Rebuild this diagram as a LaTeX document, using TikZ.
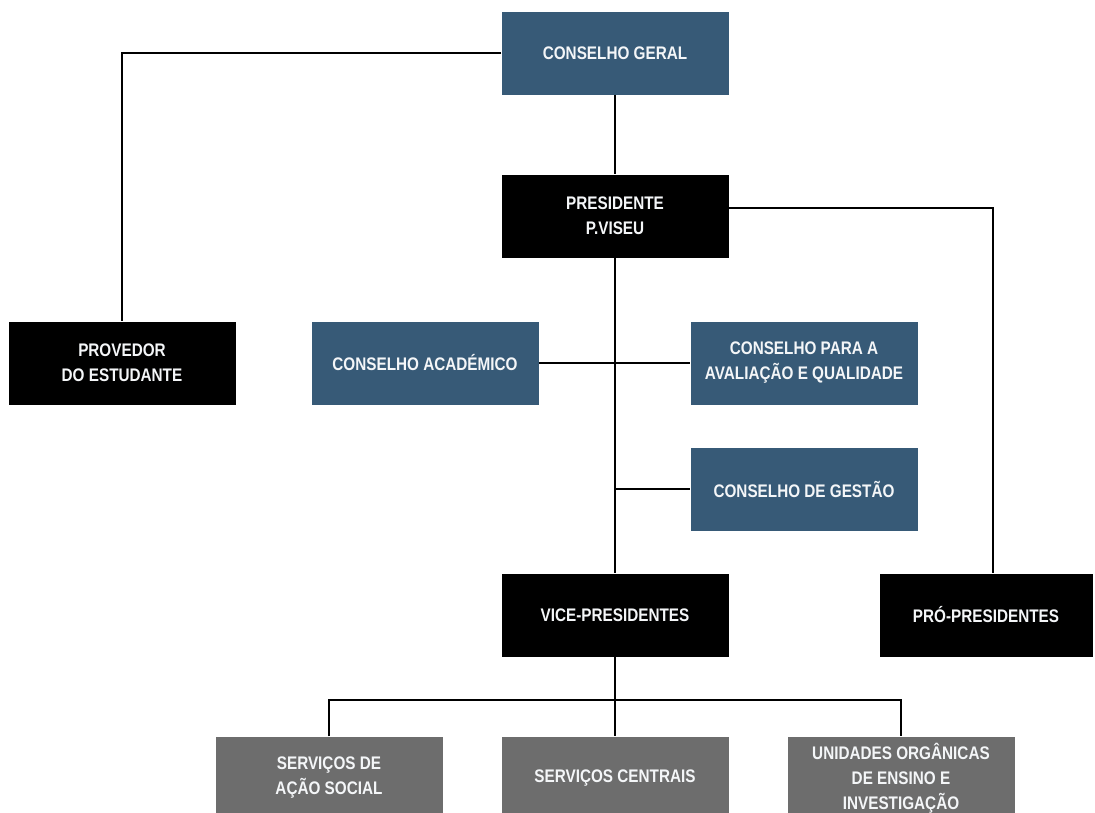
\documentclass[tikz,border=0pt]{standalone}
\usepackage{fontspec}
\setmainfont{Liberation Sans}[FakeStretch=0.84]
\definecolor{conselhoblue}{HTML}{375A77}
\definecolor{servicogrey}{HTML}{6D6D6D}
\definecolor{textwhite}{HTML}{F4F6F8}

\begin{document}
\begin{tikzpicture}[x=1pt,y=-1pt,
    box/.style={minimum width=227pt, minimum height=83pt, inner sep=0pt,
                text=textwhite, align=center,
                font=\bfseries\fontsize{18.2}{25}\selectfont},
    bluebox/.style={box, fill=conselhoblue},
    blackbox/.style={box, fill=black},
    greybox/.style={box, fill=servicogrey},
    link/.style={line width=1.6pt, black}]
                \useasboundingbox (0,0) rectangle (1095,812);
                \clip (0,0) rectangle (1095,812);

                \node [bluebox] (geral) at (615,53) {CONSELHO GERAL};
                \node [blackbox] (presidente) at (615,216) {PRESIDENTE\\P.VISEU};
                \node [blackbox] (provedor) at (122,363) {PROVEDOR\\DO ESTUDANTE};
                \node [bluebox] (academico) at (425,363) {CONSELHO ACADÉMICO};
                \node [bluebox] (avaliacao) at (804,363) {CONSELHO PARA A\\AVALIAÇÃO E QUALIDADE};
                \node [bluebox] (gestao) at (804,489) {CONSELHO DE GESTÃO};
                \node [blackbox] (vice) at (615,615) {VICE-PRESIDENTES};
                \node [blackbox, minimum width=213pt] (pro) at (986,615) {PRÓ-PRESIDENTES};
                \node [greybox] (acao) at (329,778) {SERVIÇOS DE\\AÇÃO SOCIAL};
                \node [greybox] (centrais) at (615,778) {SERVIÇOS CENTRAIS};
                \node [greybox] (unidades) at (901,778) {UNIDADES ORGÂNICAS\\DE ENSINO E\\INVESTIGAÇÃO};

                \coordinate (proturn) at (993,208);
                \coordinate (gestaojoin) at (615,489);
                \coordinate (bus) at (615,700);

                \draw[link] (geral.west) -| (provedor.north);
                \draw[link] (geral) -- (presidente);
                \draw[link] (presidente.east |- proturn) -- (proturn) -- (proturn |- pro.north);
                \draw[link] (presidente) -- (vice);
                \draw[link] (academico) -- (avaliacao);
                \draw[link] (gestaojoin) -- (gestao);
                \draw[link] (vice) -- (bus);
                \draw[link] (acao.north) |- (bus) -| (unidades.north);
                \draw[link] (bus) -- (centrais);

\end{tikzpicture}
\end{document}
